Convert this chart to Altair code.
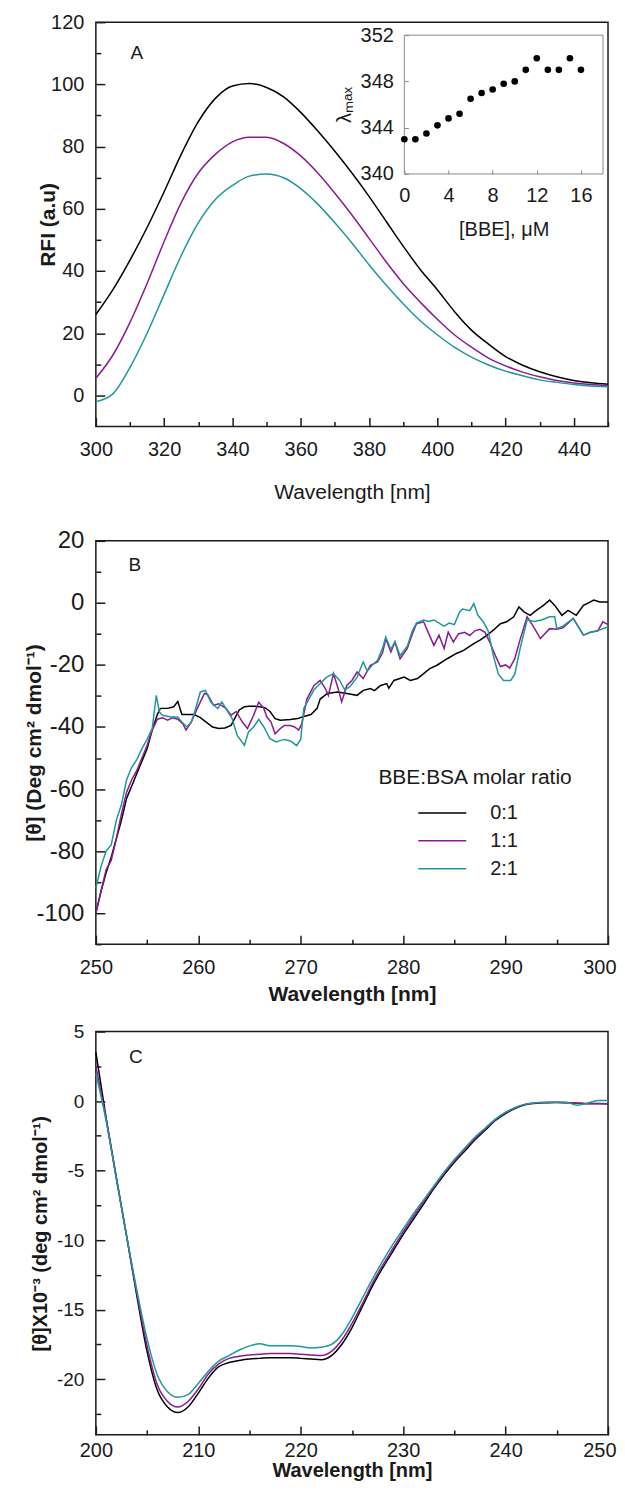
import altair as alt
import pandas as pd

FONT = "Liberation Sans"
INK = "#1a1a1a"
GRAY = "#8a8a8a"
SERIES = ["0:1", "1:1", "2:1"]
COLORS = ["#000000", "#8b1a91", "#20979a"]

W = 513
HA, HB, HC = 405, 404, 404

# ---------------- Panel A : fluorescence emission ----------------
a_wl = [300, 305, 310, 315, 320, 325, 330, 335, 340, 345, 350, 355, 360, 365, 370, 375,
        380, 385, 390, 395, 400, 405, 410, 415, 420, 425, 430, 435, 440, 445, 450]
a_black = [26, 34, 43.5, 54, 65.5, 77.5, 88, 95.5, 99.5, 100.3, 99, 96, 91, 85, 78.5, 71.5,
           64, 56, 48, 40.5, 34, 27, 21, 16.5, 12.5, 9.7, 7.6, 6, 4.8, 4.1, 3.6]
a_purple = [5.5, 13, 23.5, 36, 49.5, 62, 71.5, 77.5, 81.5, 83, 83, 81, 77, 71.5, 65, 58,
            50.5, 43, 36, 30, 24.5, 19.5, 15.5, 12, 9.5, 7.5, 6, 4.8, 4, 3.5, 3.2]
a_teal = [-2, 0.5, 9, 20, 32.5, 45, 55.5, 63, 67.5, 70.5, 71.2, 70, 66.5, 61.5, 55.5, 49,
          42, 35.5, 29.5, 24, 19.5, 15.5, 12.3, 9.8, 7.8, 6.3, 5, 4.2, 3.5, 3, 2.8]

inset_bbe = [0, 1, 2, 3, 4, 5, 6, 7, 8, 9, 10, 11, 12, 13, 14, 15, 16]
inset_lmax = [343, 343, 343.5, 344.2, 344.8, 345.2, 346.5, 347, 347.3, 347.8, 348,
              349, 350, 349, 349, 350, 349]

# ---------------- Panel B : near-UV CD ----------------
b_black_wl = [250, 250.5, 251, 251.5, 252, 252.5, 253, 253.5, 254, 254.5, 255, 255.5, 256, 256.3,
              257, 257.6, 258, 258.4, 259, 259.6, 260.2, 260.8, 261.4, 262, 262.6, 263.2, 263.6,
              264, 264.5, 265, 265.5, 266, 266.5, 267, 267.5, 268, 269, 269.7, 270.3, 271, 271.6,
              271.9, 272.6, 273.6, 274.5, 275.5, 276.1, 276.8, 277.2, 277.8, 278.4, 278.6, 279.1,
              280.1, 280.7, 281.4, 282, 282.6, 283.3, 284.3, 285.2, 285.9, 286.9, 287.5, 288.2,
              288.8, 289.5, 290.1, 290.8, 291.3, 291.8, 292.4, 293, 293.7, 294.3, 294.8, 295.5,
              296.1, 296.9, 297.6, 298.1, 298.6, 299.2, 300]
b_black_val = [-100, -93, -87, -82, -76, -70, -63, -59, -55, -51, -47, -41, -36, -34,
               -34, -33.5, -31.8, -36, -36, -36, -37, -38.5, -40, -40.5, -40.3, -39.5, -37,
               -34.5, -33.5, -33.3, -33.3, -33.5, -33.8, -35, -37.3, -37.8, -37.6, -37.3, -36.6, -36, -34,
               -31, -29.2, -28.7, -29.2, -29.8, -28.2, -27.6, -28.3, -26.6, -26, -27.5, -25,
               -23.9, -25, -24.4, -22.8, -21.2, -20.1, -18, -16.3, -15.3, -13.1, -12, -10.4,
               -8.8, -6.7, -6.1, -4.5, -1.3, -2.9, -4, -2.4, -0.8, 0.9, -0.8, -4,
               -2.4, -4, -0.8, 0, 0.9, 0.3, 0.3]

b_purple_wl = [250, 250.5, 251, 251.5, 252, 252.5, 253, 253.5, 254, 254.5, 255, 255.5, 256, 256.5,
               257, 257.5, 258, 258.5, 258.8, 259.3, 259.9, 260.6, 260.9, 261.5, 262, 262.7, 263.2,
               263.7, 264.3, 264.8, 265.4, 265.9, 266.4, 266.7, 267.1, 267.5, 268, 268.4, 269, 269.4,
               269.8, 270.1, 270.6, 271.3, 271.9, 272.4, 272.7, 273.2, 273.6, 274, 274.5, 275, 275.5,
               276.1, 276.8, 277.5, 278, 278.3, 278.8, 279.2, 279.7, 280.4, 280.9, 281.3, 282, 282.5,
               283, 283.5, 284, 284.4, 284.9, 285.4, 286, 286.5, 287, 287.5, 288, 288.5, 289, 289.5,
               290, 290.4, 290.9, 291.4, 292.1, 292.6, 293.4, 294.3, 295, 295.6, 296.6, 297.6, 298.3,
               299, 299.5, 300]
b_purple_val = [-100, -93, -86, -83, -76, -68, -61, -57, -54, -50, -46, -41, -37.5, -37,
                -37.8, -37, -37.5, -39, -41, -38.5, -34, -29.2, -29.5, -33, -32.5, -34, -36.2,
                -35, -38.4, -40.5, -36.2, -32, -34, -36.8, -38.4, -42.2, -40.5, -39.5, -39.5, -40,
                -41, -39, -31, -26.6, -25, -27.6, -29.8, -22.8, -27, -31.9, -26.6, -25, -22.3,
                -24.4, -20.1, -19, -16, -11.5, -15.8, -12.6, -18, -14.7, -10, -6.7, -6.1, -9.9,
                -13.7, -10.4, -14.7, -9.4, -12.6, -10, -9.5, -10.5, -9, -8.5, -9.5, -13, -17, -20.5,
                -20, -21, -18, -12, -4.5, -7, -11.5, -8.3, -8.5, -8, -5, -10.4, -9.5,
                -9, -6.1, -7]

b_teal_wl = [250, 250.5, 251, 251.5, 252, 252.5, 253, 253.5, 254, 254.5, 255, 255.5, 255.9, 256.2,
             256.5, 257.3, 258, 258.4, 258.9, 259.3, 259.6, 260.2, 260.7, 261.2, 261.9, 262.3, 262.8,
             263.3, 263.8, 264.5, 264.9, 265.4, 265.9, 266.4, 267, 267.6, 268.4, 269, 269.6, 270,
             270.3, 270.8, 271.3, 271.9, 272.5, 273.2, 273.8, 274.3, 274.8, 275.5, 276.1, 276.5, 277,
             277.5, 278, 278.3, 278.8, 279.2, 279.7, 280.4, 280.9, 281.3, 282, 282.5, 283, 283.5, 284,
             284.5, 285, 285.5, 285.8, 286.5, 286.9, 287.3, 287.8, 288.3, 288.8, 289.3, 289.8, 290.5,
             290.9, 291.4, 292.1, 292.8, 293.5, 294.3, 294.8, 295, 295.6, 296.6, 297.6, 298.3, 299, 300]
b_teal_val = [-92, -85, -80, -78, -70, -65, -57, -53, -50.5, -47, -44, -40.5, -29.8, -35.2,
              -36.2, -36.8, -36.8, -38.4, -40, -38.5, -35.7, -28.7, -28.2, -31.9, -34.1, -31.9, -34.6,
              -37.3, -42.7, -45.9, -41.6, -40, -37.5, -40, -43.8, -44.8, -44, -44.5, -46, -44,
              -34, -31, -28, -26, -24, -22.8, -25, -28, -27, -24, -19, -22, -20,
              -18.5, -14.5, -11, -15, -12.5, -17, -14, -9, -6.5, -5.5, -6, -5.5, -6.5, -7.5,
              -6.5, -7, -3, -2, -2.5, -0.2, -4, -6, -9, -17, -23, -25, -25,
              -23, -15, -5.5, -6, -5.5, -4.5, -4.5, -8.3, -7.5, -5, -10.4, -9.4, -9, -7.7]

# ---------------- Panel C : far-UV CD ----------------
c_wl = [200, 201, 202, 203, 204, 205, 206, 207, 208, 209, 210, 211, 212, 213, 214, 215, 216,
        217, 218, 219, 220, 221, 222, 223, 224, 225, 226, 227, 228, 229, 230, 231, 232, 233,
        234, 235, 236, 237, 238, 239, 240, 241, 242, 243, 244, 245, 246, 247, 248, 249, 250]
c_black = [3.5, -1.2, -5.5, -9.7, -14, -18, -20.8, -22, -22.4, -22, -21, -19.9, -19.1, -18.8,
           -18.65, -18.55, -18.5, -18.45, -18.45, -18.45, -18.5, -18.55, -18.6, -18.3, -17.5,
           -16.3, -14.8, -13.3, -12, -10.8, -9.6, -8.5, -7.4, -6.3, -5.3, -4.4, -3.6, -2.8,
           -2.1, -1.4, -0.9, -0.5, -0.25, -0.15, -0.12, -0.1, -0.12, -0.15, -0.18, -0.18, -0.2]
c_purple = [2.5, -1.3, -5.5, -9.7, -13.8, -17.6, -20.4, -21.6, -22, -21.6, -20.7, -19.6, -18.9,
            -18.5, -18.35, -18.25, -18.2, -18.15, -18.15, -18.15, -18.2, -18.25, -18.3, -18,
            -17.2, -16, -14.6, -13.1, -11.8, -10.6, -9.4, -8.3, -7.2, -6.2, -5.2, -4.3, -3.5,
            -2.7, -2, -1.35, -0.85, -0.45, -0.22, -0.12, -0.1, -0.08, -0.1, -0.15, -0.2, -0.2, -0.2]
c_teal = [2, -1.4, -5.6, -9.7, -13.6, -17.1, -19.7, -20.9, -21.3, -21.1, -20.3, -19.4, -18.7,
          -18.3, -17.9, -17.6, -17.45, -17.6, -17.6, -17.6, -17.65, -17.75, -17.7, -17.5, -16.8,
          -15.6, -14.2, -12.8, -11.5, -10.3, -9.2, -8.1, -7.1, -6.1, -5.1, -4.2, -3.4, -2.6,
          -1.95, -1.3, -0.8, -0.45, -0.22, -0.12, -0.08, -0.08, -0.1, -0.3, -0.15, 0.05, 0.05]

# axis label / tick values
a_xlabels = [300, 320, 340, 360, 380, 400, 420, 440]
a_ylabels = [0, 20, 40, 60, 80, 100, 120]
a_xticks = [300, 310, 320, 330, 340, 350, 360, 370, 380, 390, 400, 410, 420, 430, 440, 450]
a_yticks = [0, 10, 20, 30, 40, 50, 60, 70, 80, 90, 100, 110, 120]
inset_xlabels = [0, 4, 8, 12, 16]
inset_ylabels = [340, 344, 348, 352]
b_xlabels = [250, 260, 270, 280, 290, 300]
b_ylabels = [-100, -80, -60, -40, -20, 0, 20]
b_xticks = [250, 255, 260, 265, 270, 275, 280, 285, 290, 295, 300]
b_yticks = [-110, -100, -90, -80, -70, -60, -50, -40, -30, -20, -10, 0, 10, 20]
c_xlabels = [200, 210, 220, 230, 240, 250]
c_ylabels = [-20, -15, -10, -5, 0, 5]
c_xticks = [200, 205, 210, 215, 220, 225, 230, 235, 240, 245, 250]
c_yticks = [-22.5, -20, -17.5, -15, -12.5, -10, -7.5, -5, -2.5, 0, 2.5, 5]


def long(wl, vals, name):
    return pd.DataFrame({"wl": wl, "val": vals, "series": name})


def sc(dom):
    return alt.Scale(domain=dom, nice=False, zero=False)


def label_x(values, size, title, title_y, title_size, weight, pad=13, last=None):
    extra = {}
    if last is not None:
        # keep the right-most label inside the page: right-align it, nudged outward
        test = "datum.value === %s" % last
        extra = dict(labelAlign={"condition": {"test": test, "value": "right"}, "value": "center"},
                     labelOffset={"condition": {"test": test, "value": 8}, "value": 0})
    return alt.Axis(orient="bottom", values=values, ticks=False, tickSize=0, domain=False, grid=False,
                    labelFont=FONT, labelFontSize=size, labelColor=INK, labelPadding=pad,
                    labelFlush=False, labelOverlap=False,
                    labelExpr="datum.value + ''", title=title, titleFont=FONT,
                    titleFontSize=title_size, titleFontWeight=weight, titleColor=INK,
                    titleY=title_y, titleBaseline="middle", **extra)


def label_y(values, size, title, title_x, title_size):
    return alt.Axis(orient="left", values=values, ticks=False, tickSize=0, domain=False, grid=False,
                    labelFont=FONT, labelFontSize=size, labelColor=INK, labelPadding=12,
                    labelFlush=False, labelOverlap=False,
                    labelExpr="datum.value + ''", title=title, titleFont=FONT,
                    titleFontSize=title_size, titleFontWeight="bold", titleColor=INK,
                    titleX=title_x, titleBaseline="middle")


def cond_size(test, major=9, minor=5):
    return {"condition": {"test": test, "value": major}, "value": minor}


def ticks_layer(df, xdom, ydom, xt, xtest, yt, ytest, H, reserve=None):
    # inward ticks: axes on the opposite side, moved onto the frame edge
    extra = {}
    if reserve is not None:
        # blank title only used to reserve room below the panel
        extra = dict(title=" ", titleY=reserve, titleFontSize=20, titleBaseline="middle")
    else:
        extra = dict(title=None)
    return alt.Chart(df).mark_point(opacity=0, size=1).encode(
        x=alt.X("wl:Q", scale=sc(xdom),
                axis=alt.Axis(orient="top", offset=-H, values=xt, labels=False, domain=False,
                              grid=False, tickColor=INK, tickWidth=1.5,
                              tickSize=cond_size(xtest), **extra)),
        y=alt.Y("val:Q", scale=sc(ydom),
                axis=alt.Axis(orient="right", offset=-W, values=yt, labels=False, domain=False,
                              grid=False, title=None, tickColor=INK, tickWidth=1.5,
                              tickSize=cond_size(ytest))),
    )


def lines_layer(df, xdom, ydom, xaxis, yaxis, legend, interp):
    return alt.Chart(df).mark_line(strokeWidth=1.5, interpolate=interp).encode(
        x=alt.X("wl:Q", scale=sc(xdom), axis=xaxis),
        y=alt.Y("val:Q", scale=sc(ydom), axis=yaxis),
        color=alt.Color("series:N", scale=alt.Scale(domain=SERIES, range=COLORS), legend=legend),
    )


def letter_layer(letter, x, y, xdom, ydom):
    return alt.Chart(pd.DataFrame({"label": [letter]})).mark_text(
        font=FONT, fontSize=19, color=INK, align="center", baseline="middle"
    ).encode(x=alt.XDatum(x, axis=None, scale=sc(xdom)),
             y=alt.YDatum(y, axis=None, scale=sc(ydom)), text="label:N")


# ---- Panel A
dfA = pd.concat([long(a_wl, a_black, SERIES[0]), long(a_wl, a_purple, SERIES[1]),
                 long(a_wl, a_teal, SERIES[2])])
linesA = lines_layer(dfA, [300, 450], [-10, 120],
                     label_x(a_xlabels, 20, "Wavelength [nm]", 66, 21, "normal"),
                     label_y(a_ylabels, 20, "RFI (a.u)", -47, 21), None, "monotone")
letterA = letter_layer("A", 312, 110, [300, 450], [-10, 120])
ticksA = ticks_layer(dfA, [300, 450], [-10, 120], a_xticks, "datum.value % 20 === 0",
                     a_yticks, "datum.value % 20 === 0", HA, reserve=74)

inset_df = pd.DataFrame({"bbe": inset_bbe, "lmax": inset_lmax})
IX0, IX1, IY0, IY1 = 309, 508, 152, 13


def isx():
    return alt.Scale(domain=[0, 18], range=[IX0, IX1], nice=False, zero=False)


def isy():
    return alt.Scale(domain=[340, 352], range=[IY0, IY1], nice=False, zero=False)


inset_frame = alt.Chart(pd.DataFrame({"x0": [0], "x1": [18], "y0": [340], "y1": [352]})).mark_rect(
    fillOpacity=0, stroke=GRAY, strokeWidth=1).encode(
    x=alt.X("x0:Q", scale=isx(), axis=None), x2="x1:Q",
    y=alt.Y("y0:Q", scale=isy(), axis=None), y2="y1:Q")
inset_pts = alt.Chart(inset_df).mark_circle(size=44, color="#000000", opacity=1).encode(
    x=alt.X("bbe:Q", scale=isx(),
            axis=alt.Axis(orient="bottom", offset=IY0 - HA, values=inset_xlabels, ticks=False,
                          tickSize=0, domain=False, grid=False, labelFont=FONT, labelFontSize=20,
                          labelColor=INK, labelPadding=12, labelFlush=False, labelOverlap=False,
                          title="[BBE], μM", titleFont=FONT,
                          titleFontSize=20, titleFontWeight="normal", titleColor=INK, titleY=56,
                          titleBaseline="middle")),
    y=alt.Y("lmax:Q", scale=isy(),
            axis=alt.Axis(orient="left", offset=-IX0, values=inset_ylabels, ticks=False,
                          tickSize=0, domain=False, grid=False, labelFont=FONT, labelFontSize=20,
                          labelColor=INK, labelPadding=11, labelFlush=False, labelOverlap=False,
                          title="λₘₐₓ", titleFont=FONT,
                          titleFontSize=20, titleFontWeight="normal", titleColor=INK,
                          titleX=-60, titleY=(IY0 + IY1) / 2, titleBaseline="middle")),
)
inset_ticks = alt.Chart(inset_df).mark_point(opacity=0, size=1).encode(
    x=alt.X("bbe:Q", scale=isx(),
            axis=alt.Axis(orient="top", offset=-IY0, values=inset_xlabels, labels=False,
                          domain=False, grid=False, title=None, tickColor=GRAY, tickWidth=1,
                          tickSize=4)),
    y=alt.Y("lmax:Q", scale=isy(),
            axis=alt.Axis(orient="right", offset=IX0 - W, values=inset_ylabels, labels=False,
                          domain=False, grid=False, title=None, tickColor=GRAY, tickWidth=1,
                          tickSize=4)),
)

panelA = alt.layer(linesA, letterA, ticksA, inset_frame, inset_pts, inset_ticks).resolve_scale(
    x="independent", y="independent").resolve_axis(
    x="independent", y="independent").properties(width=W, height=HA)

# ---- Panel B
dfB = pd.concat([long(b_black_wl, b_black_val, SERIES[0]),
                 long(b_purple_wl, b_purple_val, SERIES[1]),
                 long(b_teal_wl, b_teal_val, SERIES[2])])
legendB = alt.Legend(orient="none", legendX=283, legendY=227, direction="vertical",
                     title="BBE:BSA molar ratio", titleFont=FONT, titleFontSize=21,
                     titleFontWeight="normal", titleColor=INK, titleAnchor="start",
                     titleLimit=400, titlePadding=14, labelFont=FONT, labelFontSize=20,
                     labelColor=INK, symbolType="stroke", symbolSize=2304, symbolStrokeWidth=1.5,
                     symbolOffset=39, labelOffset=23, rowPadding=7, padding=0, clipHeight=21)
linesB = lines_layer(dfB, [250, 300], [-110, 20],
                     label_x(b_xlabels, 20, "Wavelength [nm]", 50, 21, "bold", last=300),
                     label_y(b_ylabels, 24, "[θ] (Deg cm² dmol⁻¹)", -61, 21), legendB, "linear")
ticksB = ticks_layer(dfB, [250, 300], [-110, 20], b_xticks, "datum.value % 10 === 0",
                     b_yticks, "datum.value % 20 === 0", HB)
panelB = alt.layer(linesB, letter_layer("B", 253.8, 12.3, [250, 300], [-110, 20]), ticksB).resolve_axis(
    x="independent", y="independent").properties(width=W, height=HB)

# ---- Panel C
dfC = pd.concat([long(c_wl, c_black, SERIES[0]), long(c_wl, c_purple, SERIES[1]),
                 long(c_wl, c_teal, SERIES[2])])
linesC = lines_layer(dfC, [200, 250], [-24, 5],
                     label_x(c_xlabels, 20, "Wavelength [nm]", 36, 20, "bold", pad=6, last=250),
                     label_y(c_ylabels, 19, "[θ]X10⁻³ (deg cm² dmol⁻¹)", -55, 20), None, "monotone")
ticksC = ticks_layer(dfC, [200, 250], [-24, 5], c_xticks, "datum.value % 10 === 0",
                     c_yticks, "datum.value % 5 === 0", HC)
panelC = alt.layer(linesC, letter_layer("C", 203.9, 3.15, [200, 250], [-24, 5]), ticksC).resolve_axis(
    x="independent", y="independent").properties(width=W, height=HC)

chart = alt.vconcat(panelA, panelB, panelC, spacing=16.5).resolve_scale(
    color="independent").properties(
    padding={"left": 15, "top": 2, "right": 0, "bottom": 0}
).configure(font=FONT).configure_view(stroke=INK, strokeWidth=1.5)

chart.save("out.html", embed_options={"renderer": "svg", "actions": False})
